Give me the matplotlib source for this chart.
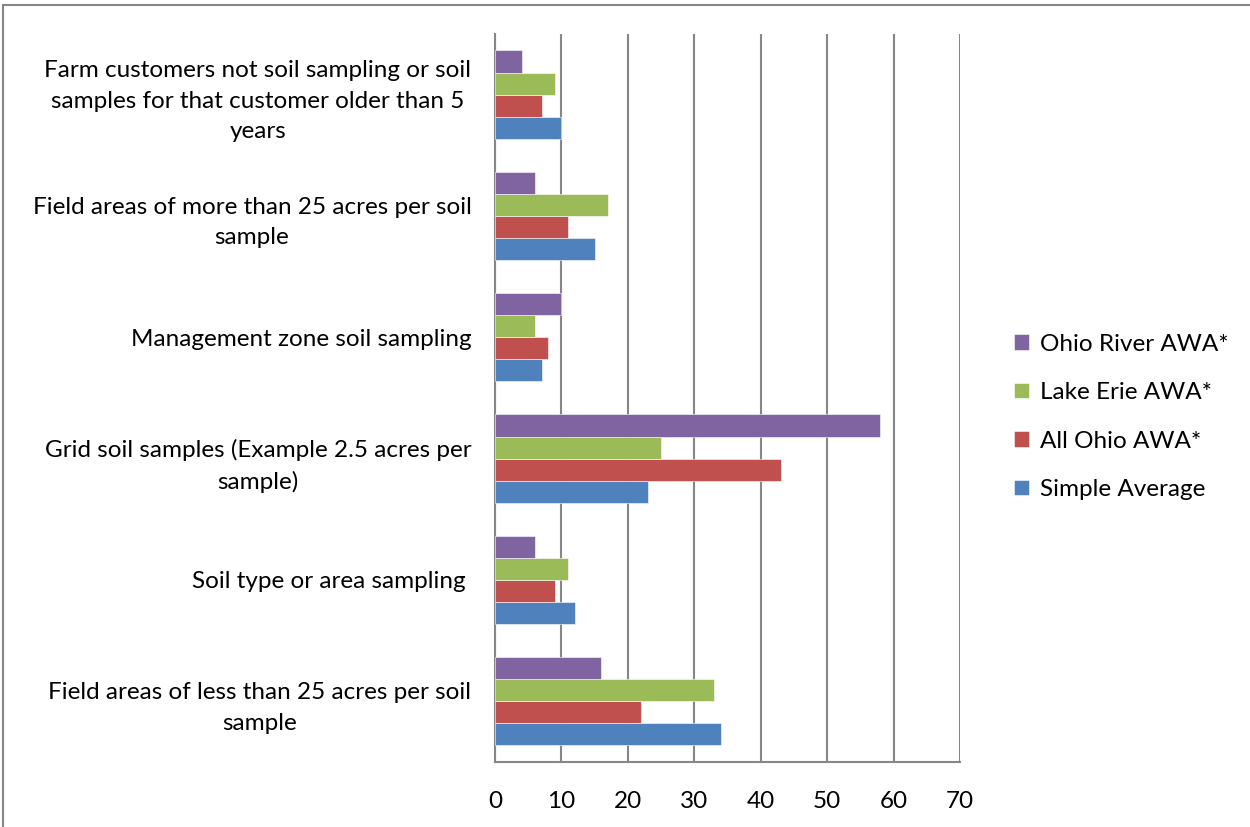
import numpy as np
import matplotlib.pyplot as plt
from matplotlib.patches import Rectangle

plt.rcParams['font.family'] = ['Lato', 'DejaVu Sans']

# categories listed bottom to top
categories = [
    "Field areas of less than 25 acres per soil\nsample",
    "Soil type or area sampling ",
    "Grid soil samples (Example 2.5 acres per\nsample)",
    "Management zone soil sampling",
    "Field areas of more than 25 acres per soil\nsample",
    "Farm customers not soil sampling or soil\nsamples for that customer older than 5\nyears",
]

simple_average = [34, 12, 23, 7, 15, 10]
all_ohio = [22, 9, 43, 8, 11, 7]
lake_erie = [33, 11, 25, 6, 17, 9]
ohio_river = [16, 6, 58, 10, 6, 4]

series = [
    ("Simple Average", simple_average, "#4F81BD"),
    ("All Ohio AWA*", all_ohio, "#C0504D"),
    ("Lake Erie AWA*", lake_erie, "#9BBB59"),
    ("Ohio River AWA*", ohio_river, "#8064A2"),
]

fs = 17.5
fig = plt.figure(figsize=(12.5, 8.27), dpi=100)
ax = fig.add_axes([0.396, 0.0786, 0.372, 0.8803])

y = np.arange(len(categories))
h = 0.182
handles = []
for i, (name, vals, col) in enumerate(series):
    b = ax.barh(y + (i - 1.5) * h, vals, height=h, color=col, label=name,
                edgecolor='white', linewidth=0.4, zorder=3)
    handles.append(b)

ax.set_xlim(0, 70)
ax.set_ylim(-0.5, len(categories) - 0.5)
ax.set_xticks(range(0, 71, 10))
ax.set_yticks(y)
ax.set_yticklabels(categories, ha='right', multialignment='center',
                   linespacing=1.55)
ax.tick_params(axis='y', length=0, pad=17, labelsize=fs)
ax.tick_params(axis='x', length=0, pad=21, labelsize=fs)

ax.grid(axis='x', color='#868686', linewidth=1.5, zorder=0)
for s in ['top', 'right']:
    ax.spines[s].set_visible(False)
for s in ['left', 'bottom']:
    ax.spines[s].set_color('#868686')
    ax.spines[s].set_linewidth(1.5)

ax.legend(handles[::-1], [s[0] for s in series[::-1]], loc='center left',
          bbox_to_anchor=(1.07, 0.474), frameon=False, fontsize=fs,
          handlelength=0.6, handleheight=0.6, labelspacing=1.13,
          handletextpad=0.45)

# outer chart border
fig.patches.append(Rectangle((3 / 1250, -0.1), 1.2, 1.1 - 5 / 827,
                             transform=fig.transFigure, fill=False,
                             edgecolor='#868686', linewidth=1.5))

fig.savefig('out.png', dpi=100)
